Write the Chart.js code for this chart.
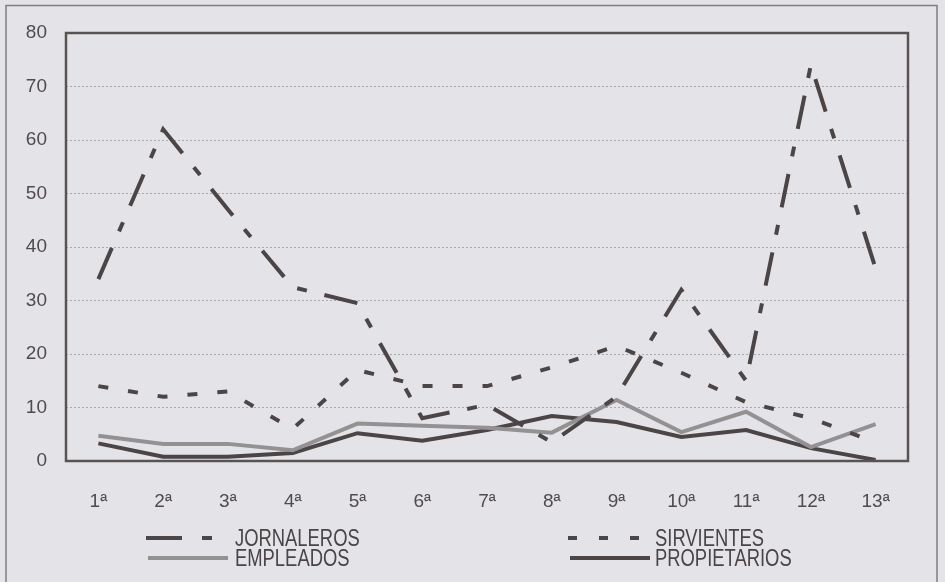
<!DOCTYPE html>
<html>
<head>
<meta charset="utf-8">
<script src="https://cdn.jsdelivr.net/npm/chart.js@4"></script>
<style>
  html, body { margin: 0; padding: 0; background: #e4e4e8; }
  #caja { width: 945px; height: 582px; position: relative; }
</style>
</head>
<body>
<div id="caja"><canvas id="grafico" width="945" height="582"></canvas></div>
<script>
// categorías y series
let categorias = ["1ª", "2ª", "3ª", "4ª", "5ª", "6ª", "7ª", "8ª", "9ª", "10ª", "11ª", "12ª", "13ª"];
let jornaleros = [34, 62, 47, 32.5, 29.5, 8, 10.5, 3.5, 12, 32, 15, 74, 36];
let sirvientes = [14, 12, 13, 6, 17, 14, 14, 17.5, 21.5, 16.5, 11, 8, 3.5];
let empleados = [4.7, 3.2, 3.2, 2, 7, 6.6, 6.2, 5.3, 11.4, 5.4, 9.2, 2.6, 6.9];
let propietarios = [3.3, 0.8, 0.8, 1.5, 5.2, 3.8, 5.8, 8.4, 7.3, 4.5, 5.8, 2.4, 0.2];
let ticksY = [0, 10, 20, 30, 40, 50, 60, 70, 80];

const fuente = "'Liberation Sans', sans-serif";
const oscuro = "#4c4546";
const gris = "#949193";

// posiciones de la leyenda (muestra y texto)
const leyenda = [
  { ds: 0, x: 146, y: 538, largo: 66, tx: 235 },
  { ds: 1, x: 568, y: 538, largo: 72, tx: 655 },
  { ds: 2, x: 148, y: 558, largo: 80, tx: 235 },
  { ds: 3, x: 570, y: 558, largo: 80, tx: 655 }
];

// fondo, marco exterior, borde del área y leyenda
const marco = {
  id: "marco",
  beforeDraw(chart) {
    const c = chart.ctx;
    c.save();
    c.fillStyle = "#e4e4e8";
    c.fillRect(0, 0, chart.width, chart.height);
    c.strokeStyle = "#7f7c7e";
    c.lineWidth = 1.5;
    c.beginPath();
    c.moveTo(6, 600); c.lineTo(6, 5.5); c.lineTo(937, 5.5); c.lineTo(937, 600);
    c.stroke();
    c.restore();
  },
  afterDraw(chart) {
    const c = chart.ctx;
    const a = chart.chartArea;
    c.save();
    c.strokeStyle = "#5a5354";
    c.lineWidth = 2.5;
    c.strokeRect(a.left, a.top, a.right - a.left, a.bottom - a.top);
    c.font = "23px " + fuente;
    c.textBaseline = "middle";
    c.fillStyle = "#4a4446";
    leyenda.forEach(l => {
      const d = chart.data.datasets[l.ds];
      c.strokeStyle = d.borderColor;
      c.lineWidth = d.borderWidth;
      c.setLineDash(d.leyendaDash || []);
      c.beginPath();
      c.moveTo(l.x, l.y);
      c.lineTo(l.x + l.largo, l.y);
      c.stroke();
      c.setLineDash([]);
      // letra estrecha tipo Calibri
      c.save();
      c.translate(l.tx, l.y + 2);
      c.scale(0.8, 1);
      c.fillText(d.label, 0, 0);
      c.restore();
    });
    c.restore();
  }
};

new Chart(document.getElementById("grafico"), {
  type: "line",
  data: {
    labels: categorias,
    datasets: [
      { label: "JORNALEROS", data: jornaleros, borderColor: oscuro, borderWidth: 4,
        borderDash: [34, 18, 10, 18], leyendaDash: [36, 20, 10, 40], borderCapStyle: "butt" },
      { label: "SIRVIENTES", data: sirvientes, borderColor: oscuro, borderWidth: 4,
        borderDash: [10, 20], leyendaDash: [9, 22], borderCapStyle: "butt" },
      { label: "EMPLEADOS", data: empleados, borderColor: gris, borderWidth: 4 },
      { label: "PROPIETARIOS", data: propietarios, borderColor: oscuro, borderWidth: 4 }
    ]
  },
  options: {
    responsive: false,
    animation: false,
    layout: { padding: { top: 33, right: 37, left: 0, bottom: 0 } },
    elements: {
      point: { radius: 0 },
      line: { tension: 0, fill: false, borderJoinStyle: "miter" }
    },
    plugins: {
      legend: { display: false },
      tooltip: { enabled: false }
    },
    scales: {
      x: {
        offset: true,
        grid: { display: false, drawTicks: false },
        border: { display: false },
        ticks: { color: "#514b4d", padding: 29, font: { family: fuente, size: 19 }, maxRotation: 0 },
        afterFit(s) { s.height = 121; }
      },
      y: {
        min: 0,
        max: 80,
        afterBuildTicks(s) { s.ticks = ticksY.map(v => ({ value: v })); },
        grid: {
          drawTicks: false,
          color: ctx => (ctx.tick.value === 0 || ctx.tick.value === 80) ? "rgba(0,0,0,0)" : "#a9a8ab",
          lineWidth: 1
        },
        border: { display: false, dash: [2, 2] },
        ticks: { color: "#514b4d", padding: 19, font: { family: fuente, size: 19 } },
        afterFit(s) { s.width = 66; }
      }
    }
  },
  plugins: [marco]
});
</script>
</body>
</html>
